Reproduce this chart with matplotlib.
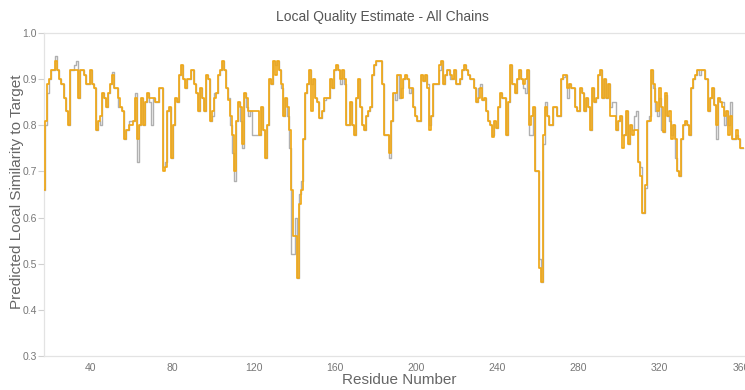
import matplotlib
matplotlib.use("Agg")
import matplotlib.pyplot as plt
import numpy as np

plt.rcParams['font.family'] = ['Liberation Sans', 'DejaVu Sans']

title = "Local Quality Estimate - All Chains"
x_label = "Residue Number"
y_label = "Predicted Local Similarity to Target"

residues = list(range(17, 362))

orange_series = [
    0.66, 0.81, 0.89, 0.90, 0.92, 0.92, 0.94, 0.92, 0.90, 0.89,
    0.86, 0.83, 0.80, 0.92, 0.92, 0.92, 0.92, 0.86, 0.92, 0.92,
    0.91, 0.89, 0.89, 0.92, 0.89, 0.88, 0.79, 0.81, 0.82, 0.87,
    0.86, 0.84, 0.87, 0.89, 0.91, 0.88, 0.88, 0.86, 0.84, 0.83,
    0.77, 0.79, 0.80, 0.80, 0.81, 0.86, 0.77, 0.80, 0.86, 0.80,
    0.85, 0.87, 0.86, 0.86, 0.86, 0.85, 0.85, 0.88, 0.88, 0.70,
    0.71, 0.83, 0.84, 0.73, 0.80, 0.86, 0.85, 0.91, 0.93, 0.90,
    0.88, 0.90, 0.90, 0.92, 0.89, 0.87, 0.83, 0.88, 0.86, 0.83,
    0.91, 0.90, 0.81, 0.83, 0.86, 0.87, 0.91, 0.92, 0.94, 0.92,
    0.88, 0.855, 0.82, 0.78, 0.70, 0.81, 0.85, 0.84, 0.76, 0.87,
    0.86, 0.83, 0.83, 0.83, 0.83, 0.83, 0.78, 0.84, 0.79, 0.73,
    0.80, 0.90, 0.89, 0.94, 0.91, 0.94, 0.92, 0.89, 0.82, 0.86,
    0.84, 0.79, 0.66, 0.56, 0.56, 0.47, 0.63, 0.66, 0.77, 0.87,
    0.89, 0.92, 0.83, 0.90, 0.86, 0.85, 0.815, 0.83, 0.86, 0.86,
    0.86, 0.90, 0.88, 0.92, 0.93, 0.92, 0.90, 0.92, 0.90, 0.80,
    0.80, 0.85, 0.80, 0.78, 0.86, 0.90, 0.84, 0.80, 0.79, 0.82,
    0.83, 0.84, 0.91, 0.93, 0.94, 0.94, 0.94, 0.89, 0.78, 0.78,
    0.74, 0.81, 0.87, 0.87, 0.91, 0.91, 0.86, 0.90, 0.91, 0.90,
    0.88, 0.88, 0.84, 0.82, 0.81, 0.81, 0.91, 0.895, 0.91, 0.88,
    0.79, 0.82, 0.89, 0.89, 0.89, 0.93, 0.94, 0.89, 0.91, 0.92,
    0.91, 0.90, 0.92, 0.89, 0.89, 0.90, 0.92, 0.93, 0.92, 0.91,
    0.90, 0.90, 0.88, 0.85, 0.86, 0.88, 0.855, 0.86, 0.83, 0.81,
    0.80, 0.775, 0.81, 0.795, 0.84, 0.87, 0.86, 0.86, 0.78, 0.85,
    0.93, 0.89, 0.87, 0.90, 0.92, 0.90, 0.89, 0.90, 0.92, 0.80,
    0.82, 0.84, 0.70, 0.70, 0.49, 0.46, 0.78, 0.84, 0.82, 0.80,
    0.80, 0.84, 0.84, 0.82, 0.82, 0.90, 0.91, 0.91, 0.88, 0.89,
    0.88, 0.88, 0.84, 0.83, 0.88, 0.87, 0.83, 0.86, 0.84, 0.79,
    0.88, 0.85, 0.86, 0.91, 0.92, 0.86, 0.90, 0.86, 0.89, 0.82,
    0.82, 0.82, 0.79, 0.81, 0.82, 0.75, 0.78, 0.83, 0.76, 0.80,
    0.78, 0.79, 0.79, 0.72, 0.69, 0.61, 0.67, 0.81, 0.81, 0.92,
    0.89, 0.85, 0.83, 0.88, 0.84, 0.785, 0.87, 0.82, 0.83, 0.77,
    0.80, 0.77, 0.70, 0.69, 0.77, 0.80, 0.81, 0.80, 0.78, 0.88,
    0.90, 0.91, 0.92, 0.92, 0.92, 0.92, 0.90, 0.83, 0.86, 0.88,
    0.845, 0.80, 0.86, 0.85, 0.84, 0.82, 0.83, 0.78, 0.82, 0.77,
    0.77, 0.79, 0.77, 0.75, 0.75,
]

gray_series = [
    0.66, 0.80, 0.87, 0.90, 0.92, 0.92, 0.95, 0.92, 0.90, 0.89,
    0.86, 0.83, 0.80, 0.92, 0.92, 0.93, 0.94, 0.86, 0.92, 0.92,
    0.91, 0.89, 0.89, 0.92, 0.89, 0.88, 0.79, 0.81, 0.80, 0.87,
    0.86, 0.84, 0.87, 0.89, 0.915, 0.88, 0.88, 0.84, 0.84, 0.83,
    0.77, 0.79, 0.81, 0.81, 0.81, 0.87, 0.72, 0.80, 0.86, 0.80,
    0.85, 0.87, 0.85, 0.80, 0.86, 0.85, 0.85, 0.88, 0.88, 0.71,
    0.72, 0.83, 0.84, 0.73, 0.80, 0.86, 0.85, 0.91, 0.93, 0.90,
    0.88, 0.90, 0.90, 0.92, 0.89, 0.87, 0.83, 0.88, 0.86, 0.83,
    0.91, 0.90, 0.81, 0.82, 0.87, 0.87, 0.91, 0.92, 0.94, 0.92,
    0.88, 0.86, 0.80, 0.74, 0.68, 0.81, 0.85, 0.81, 0.75, 0.87,
    0.84, 0.82, 0.83, 0.78, 0.78, 0.78, 0.78, 0.84, 0.79, 0.73,
    0.80, 0.90, 0.89, 0.94, 0.93, 0.94, 0.92, 0.88, 0.82, 0.86,
    0.82, 0.75, 0.52, 0.52, 0.60, 0.47, 0.65, 0.68, 0.77, 0.87,
    0.89, 0.92, 0.89, 0.90, 0.86, 0.85, 0.815, 0.83, 0.855, 0.86,
    0.86, 0.90, 0.88, 0.92, 0.93, 0.92, 0.89, 0.92, 0.89, 0.80,
    0.80, 0.85, 0.80, 0.78, 0.86, 0.90, 0.84, 0.80, 0.79, 0.82,
    0.83, 0.84, 0.91, 0.93, 0.94, 0.94, 0.94, 0.89, 0.78, 0.78,
    0.73, 0.81, 0.87, 0.855, 0.91, 0.86, 0.88, 0.90, 0.91, 0.90,
    0.87, 0.88, 0.84, 0.82, 0.81, 0.81, 0.91, 0.895, 0.91, 0.89,
    0.80, 0.82, 0.89, 0.89, 0.89, 0.92, 0.94, 0.89, 0.91, 0.92,
    0.90, 0.90, 0.92, 0.89, 0.89, 0.90, 0.92, 0.93, 0.92, 0.91,
    0.90, 0.90, 0.88, 0.85, 0.88, 0.89, 0.855, 0.86, 0.83, 0.81,
    0.80, 0.78, 0.81, 0.795, 0.84, 0.87, 0.86, 0.86, 0.78, 0.85,
    0.93, 0.89, 0.87, 0.90, 0.92, 0.90, 0.88, 0.87, 0.92, 0.78,
    0.78, 0.84, 0.70, 0.70, 0.51, 0.46, 0.76, 0.85, 0.82, 0.80,
    0.80, 0.84, 0.84, 0.82, 0.82, 0.90, 0.905, 0.91, 0.86, 0.89,
    0.88, 0.88, 0.84, 0.83, 0.88, 0.87, 0.83, 0.86, 0.84, 0.79,
    0.88, 0.85, 0.86, 0.91, 0.92, 0.86, 0.90, 0.86, 0.89, 0.84,
    0.85, 0.85, 0.79, 0.81, 0.82, 0.78, 0.78, 0.83, 0.76, 0.80,
    0.79, 0.82, 0.83, 0.72, 0.71, 0.61, 0.665, 0.81, 0.82, 0.92,
    0.88, 0.83, 0.82, 0.86, 0.79, 0.785, 0.865, 0.82, 0.81, 0.78,
    0.80, 0.73, 0.70, 0.69, 0.77, 0.80, 0.81, 0.80, 0.78, 0.88,
    0.90, 0.91, 0.92, 0.91, 0.92, 0.92, 0.90, 0.83, 0.86, 0.88,
    0.845, 0.77, 0.86, 0.85, 0.85, 0.80, 0.83, 0.80, 0.85, 0.77,
    0.77, 0.78, 0.77, 0.75, 0.75,
]

x_ticks = [40, 80, 120, 160, 200, 240, 280, 320, 360]
y_ticks = [0.3, 0.4, 0.5, 0.6, 0.7, 0.8, 0.9, 1.0]

W, H = 745, 390
fig = plt.figure(figsize=(W / 100, H / 100), dpi=100)
left, right, top, bottom = 44, 745.5, 33, 356
ax = fig.add_axes([left / W, 1 - bottom / H, (right - left) / W, (bottom - top) / H])

ax.plot(residues, gray_series, drawstyle='steps-mid', color='#b0b0b0', lw=1.0, zorder=2)
ax.plot(residues, orange_series, drawstyle='steps-mid', color='#f0a818', lw=1.25, zorder=3)

ax.set_xlim(16.9, 362.2)
ax.set_ylim(0.3, 1.0)
ax.set_xticks(x_ticks)
ax.set_yticks(y_ticks)
ax.set_yticklabels([f"{v:.1f}" for v in y_ticks])

ax.spines['right'].set_visible(False)
for s in ['top', 'bottom', 'left']:
    ax.spines[s].set_color('#e3e3e3')
    ax.spines[s].set_linewidth(0.9)

ax.tick_params(axis='y', length=4, width=0.8, color='#d0d0d0', labelsize=7.5, labelcolor='#777777', pad=1)
ax.tick_params(axis='x', length=0, labelsize=7.5, labelcolor='#777777', pad=5)

fig.text(382 / W, 1 - 17 / H, title, ha='center', va='center', fontsize=10, color='#555555')
fig.text(399 / W, 1 - 380 / H, x_label, ha='center', va='center', fontsize=11, color='#666666')
fig.text(17 / W, 1 - 192 / H, y_label, ha='center', va='center', rotation=90, fontsize=11, color='#666666')

fig.savefig('out.png', dpi=100)
